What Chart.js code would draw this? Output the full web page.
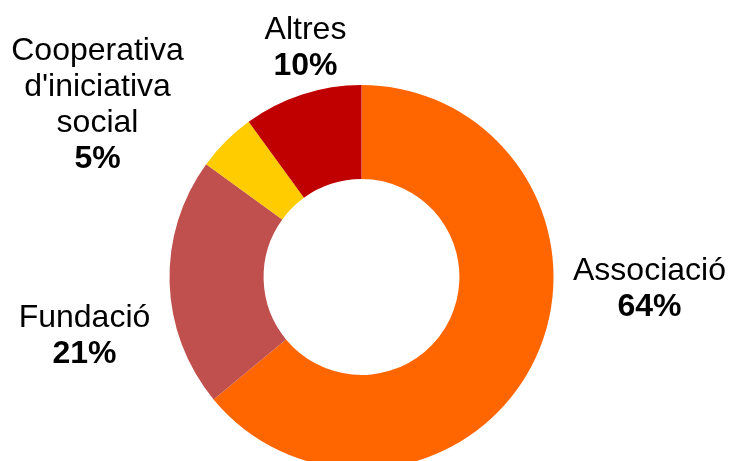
<!DOCTYPE html>
<html>
<head>
<meta charset="utf-8">
<script src="https://cdn.jsdelivr.net/npm/chart.js@4"></script>
<style>
  html, body { margin: 0; padding: 0; background: #fff; overflow: hidden; }
  #wrap { width: 729px; height: 480px; position: relative; }
</style>
</head>
<body>
<div id="wrap"><canvas id="chart" width="729" height="480"></canvas></div>
<script>
const categories = ['Associació', 'Fundació', "Cooperativa d'iniciativa social", 'Altres'];
const labelLines = [['Associació'], ['Fundació'], ['Cooperativa', "d'iniciativa", 'social'], ['Altres']];
const shares = [64, 21, 5, 10];
const colors = ['#FF6600', '#C0504D', '#FFCC00', '#C00000'];

// label anchors, relative to the doughnut centre (x centre, first baseline)
const labelPos = [
    { dx: 288, dy: 3 },
    { dx: -277, dy: 50 },
    { dx: -264, dy: -217 },
    { dx: -56, dy: -238 }
];

const outsideLabels = {
    id: 'outsideLabels',
    afterDraw(chart) {
        const ctx = chart.ctx;
        const arcs = chart.getDatasetMeta(0).data;
        const cx = arcs[0].x, cy = arcs[0].y;
        const lh = 36;
        ctx.save();
        ctx.fillStyle = '#000';
        ctx.textAlign = 'center';
        ctx.textBaseline = 'alphabetic';
        labelLines.forEach((lines, i) => {
            const x = cx + labelPos[i].dx;
            let y = cy + labelPos[i].dy;
            ctx.font = '32px "Liberation Sans", Arial, sans-serif';
            lines.forEach(line => {
                ctx.fillText(line, x, y);
                y += lh;
            });
            ctx.font = 'bold 32px "Liberation Sans", Arial, sans-serif';
            ctx.fillText(shares[i] + '%', x, y);
        });
        ctx.restore();
    }
};

new Chart(document.getElementById('chart'), {
    type: 'doughnut',
    data: {
        labels: categories,
        datasets: [{
            data: shares,
            backgroundColor: colors,
            borderWidth: 0
        }]
    },
    options: {
        responsive: false,
        animation: false,
        cutout: '51%',
        layout: {
            padding: { top: 85, left: 169, right: 175, bottom: 11 }
        },
        plugins: {
            legend: { display: false },
            tooltip: { enabled: false }
        }
    },
    plugins: [outsideLabels]
});
</script>
</body>
</html>
